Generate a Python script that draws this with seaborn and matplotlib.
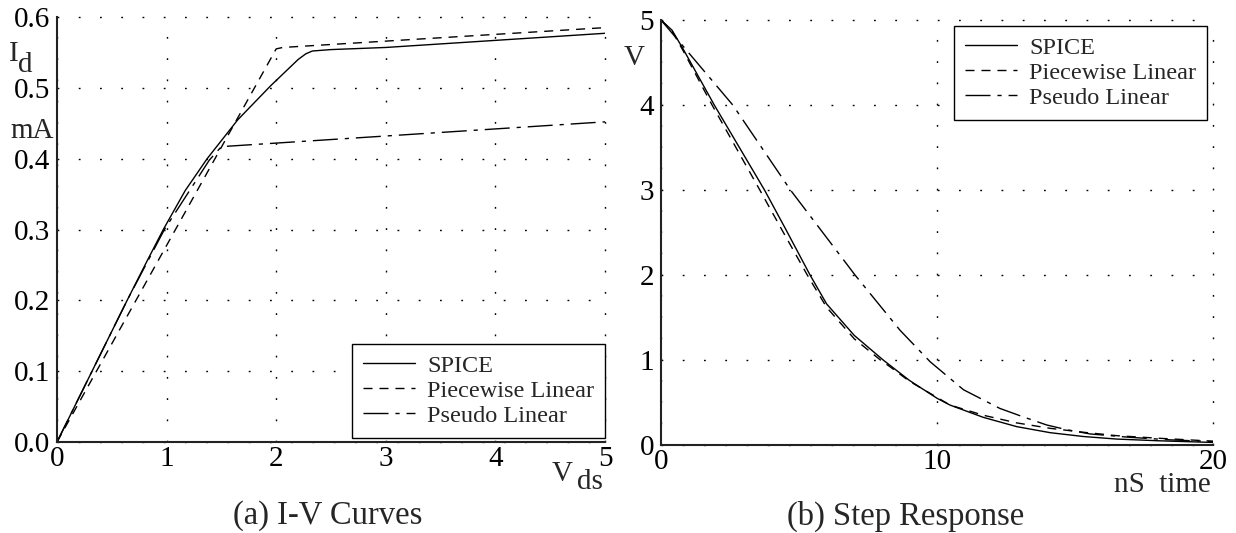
import matplotlib
matplotlib.use("Agg")
import matplotlib.pyplot as plt
import seaborn as sns
import pandas as pd

# ---------------- data ----------------
# (a) I-V curves  (V_ds in volts, I_d in mA)
iv_spice_v = [0, 0.32, 0.64, 0.82, 0.97, 1.17, 1.37, 1.65, 1.95, 2.2, 2.27, 2.33, 2.5, 3.0, 4.0, 5.0]
iv_spice_i = [0, 0.10, 0.20, 0.255, 0.30, 0.355, 0.40, 0.455, 0.503, 0.54, 0.548, 0.552,
              0.554, 0.557, 0.567, 0.577]
iv_pwl_v = [0, 2.0, 2.06, 5.0]
iv_pwl_i = [0, 0.555, 0.557, 0.585]
iv_pseudo_v = [0, 0.32, 0.64, 0.98, 1.39, 1.5, 3.0, 5.0]
iv_pseudo_i = [0, 0.10, 0.20, 0.30, 0.398, 0.417, 0.432, 0.452]

# (b) Step response (time in nS, voltage in V)
st_spice_t = [0, 0.4, 0.8, 1.93, 3.75, 4.5, 5.4, 6, 7, 8.05, 9, 10, 10.47, 11.68, 12.89,
              14.1, 15.3, 16.5, 18, 20]
st_spice_v = [5, 4.88, 4.66, 4.0, 3.0, 2.55, 2.0, 1.66, 1.29, 1.0, 0.76, 0.55, 0.47, 0.325,
              0.216, 0.145, 0.10, 0.07, 0.05, 0.03]
st_pwl_t = [0, 0.4, 0.8, 1.85, 3.58, 4.4, 5.3, 6, 7, 7.95, 8.3, 9, 10, 10.47, 11.68, 12.89,
            14.1, 15.3, 16.5, 18, 20]
st_pwl_v = [5, 4.87, 4.64, 4.0, 3.0, 2.52, 2.0, 1.62, 1.25, 1.0, 0.92, 0.75, 0.56, 0.47, 0.35,
            0.26, 0.196, 0.15, 0.11, 0.08, 0.045]
st_pseudo_t = [0, 1.3, 2.6, 4.69, 5.86, 7.03, 8.66, 9.75, 10.96, 12.28, 13.13, 13.98, 14.7,
               15.55, 17, 18.5, 20]
st_pseudo_v = [5, 4.5, 4.0, 3.0, 2.5, 2.0, 1.35, 0.98, 0.65, 0.43, 0.33, 0.235, 0.18, 0.13,
               0.09, 0.06, 0.04]

series_labels = ["SPICE", "Piecewise Linear", "Pseudo Linear"]
iv_xticks = [0, 1, 2, 3, 4, 5]
iv_yticks = [0.0, 0.1, 0.2, 0.3, 0.4, 0.5, 0.6]
iv_yticklabels = ["0.0", "0.1", "0.2", "0.3", "0.4", "0.5", "0.6"]
st_xticks = [0, 10, 20]
st_yticks = [0, 1, 2, 3, 4, 5]

# ---------------- style ----------------
sns.set_theme(style="white")
plt.rcParams["font.family"] = ["Liberation Serif", "DejaVu Serif"]

W, H = 1236, 533
fig = plt.figure(figsize=(W / 100, H / 100), dpi=100)

def fx(px):
    return px / W

def fy(py):
    return 1 - py / H

axL = fig.add_axes([fx(57), fy(442), fx(605) - fx(57), fy(17) - fy(442)])
axR = fig.add_axes([fx(661), fy(445), fx(1213) - fx(661), fy(20) - fy(445)])

styles = ["-", (0, (6.5, 5)), (0, (18, 5, 3, 5))]
lw = 1.0

iv_sets = [(iv_spice_v, iv_spice_i), (iv_pwl_v, iv_pwl_i), (iv_pseudo_v, iv_pseudo_i)]
for (xv, yv), ls, lab in zip(iv_sets, styles, series_labels):
    df = pd.DataFrame({"x": xv, "y": yv})
    sns.lineplot(data=df, x="x", y="y", ax=axL, color="black", linestyle=ls,
                 linewidth=lw, label=lab)

st_sets = [(st_spice_t, st_spice_v), (st_pwl_t, st_pwl_v), (st_pseudo_t, st_pseudo_v)]
for (xv, yv), ls, lab in zip(st_sets, styles, series_labels):
    df = pd.DataFrame({"x": xv, "y": yv})
    sns.lineplot(data=df, x="x", y="y", ax=axR, color="black", linestyle=ls,
                 linewidth=lw, label=lab)

tick_fs = 21
for ax in (axL, axR):
    for s in ("top", "right"):
        ax.spines[s].set_visible(False)
    for s in ("left", "bottom"):
        ax.spines[s].set_color("#222222")
        ax.spines[s].set_linewidth(1.5)
    ax.set_xlabel("")
    ax.set_ylabel("")
    ax.tick_params(axis="both", length=0, labelsize=tick_fs, colors="black")
    ax.tick_params(axis="y", pad=5)
    ax.tick_params(axis="x", pad=3)
    ax.grid(True, color="black", linestyle=(0, (1.3, 14.0)), linewidth=1.0)
    ax.set_axisbelow(True)

axL.set_xlim(0, 5)
axL.set_ylim(0, 0.6)
axL.set_xticks(iv_xticks)
axL.set_yticks(iv_yticks)
axL.set_yticklabels(iv_yticklabels)

axR.set_xlim(0, 20)
axR.set_ylim(0, 5)
axR.set_xticks(st_xticks)
axR.set_yticks(st_yticks)

for ax in (axL, axR):
    for gl in ax.get_xgridlines() + ax.get_ygridlines():
        gl.set_clip_on(False)

leg_kw = dict(fontsize=17.5, frameon=True, fancybox=False, shadow=False,
              handlelength=2.15, handletextpad=0.5, labelspacing=0.12,
              borderpad=0.45, borderaxespad=0.0, framealpha=1.0)
legL = axL.legend(loc="lower right", bbox_to_anchor=(1.0, 0.01), **leg_kw)
legR = axR.legend(loc="upper right", bbox_to_anchor=(0.989, 0.986), **leg_kw)
for leg in (legL, legR):
    fr = leg.get_frame()
    fr.set_edgecolor("black")
    fr.set_linewidth(1.0)
    fr.set_facecolor("white")

# axis annotations
lab_fs = 21
fig.text(fx(9), fy(54), "I", fontsize=lab_fs, ha="left", va="center")
fig.text(fx(18), fy(65), "d", fontsize=lab_fs, ha="left", va="center")
fig.text(fx(54), fy(131), "mA", fontsize=lab_fs, ha="right", va="center")
fig.text(fx(552), fy(474), "V", fontsize=lab_fs, ha="left", va="center")
fig.text(fx(577), fy(482), "ds", fontsize=lab_fs, ha="left", va="center")
fig.text(fx(624), fy(58), "V", fontsize=lab_fs, ha="left", va="center")
fig.text(fx(1211), fy(485), "nS  time", fontsize=lab_fs, ha="right", va="center")

cap_fs = 23.5
fig.text(fx(328), fy(516), "(a) I-V Curves", fontsize=cap_fs, ha="center", va="center")
fig.text(fx(906), fy(516), "(b) Step Response", fontsize=cap_fs, ha="center", va="center")

fig.savefig("out.png", dpi=100, facecolor="white")
